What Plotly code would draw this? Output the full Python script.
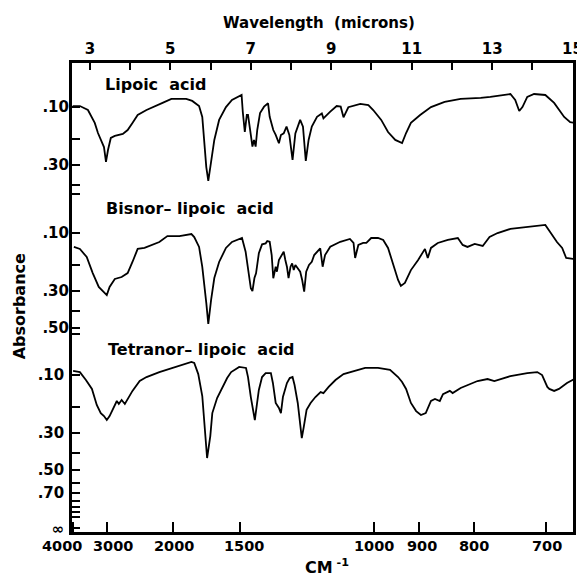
import plotly.graph_objects as go

lipoic_um = [2.49, 2.67, 2.87, 3.04, 3.12, 3.22, 3.27, 3.32, 3.37, 3.44, 3.54, 3.74, 3.86, 3.98, 4.11,
             4.33, 4.48, 4.73, 4.95, 5.32, 5.47, 5.64, 5.72, 5.77, 5.82, 5.87, 5.94, 6.02, 6.14, 6.31,
             6.46, 6.70, 6.73, 6.78, 6.83, 6.86, 6.93, 6.97, 7.01, 7.05, 7.09, 7.16, 7.26, 7.36, 7.40,
             7.49, 7.55, 7.63, 7.68, 7.75, 7.82, 7.89, 7.97, 8.04, 8.16, 8.23, 8.30, 8.37, 8.45, 8.58,
             8.70, 8.74, 8.91, 9.07, 9.17, 9.24, 9.36, 9.66, 9.86, 9.98, 10.18, 10.35, 10.53, 10.70,
             10.80, 10.92, 11.15, 11.42, 11.76, 12.16, 12.66, 12.90, 13.40, 13.52, 13.62, 13.70, 13.82,
             13.99, 14.27, 14.49, 14.74, 14.89, 14.99]
lipoic_T = [0.799, 0.799, 0.779, 0.714, 0.663, 0.618, 0.592, 0.517, 0.577, 0.638, 0.648, 0.658, 0.678,
            0.714, 0.754, 0.779, 0.794, 0.815, 0.835, 0.835, 0.825, 0.799, 0.744, 0.628, 0.491, 0.421,
            0.511, 0.628, 0.729, 0.794, 0.830, 0.855, 0.769, 0.668, 0.754, 0.754, 0.653, 0.594, 0.628,
            0.594, 0.678, 0.764, 0.796, 0.813, 0.745, 0.678, 0.653, 0.611, 0.653, 0.661, 0.695, 0.653,
            0.527, 0.661, 0.729, 0.695, 0.522, 0.628, 0.695, 0.745, 0.762, 0.737, 0.771, 0.799, 0.796,
            0.742, 0.793, 0.810, 0.804, 0.779, 0.729, 0.668, 0.628, 0.612, 0.663, 0.714, 0.754, 0.794,
            0.820, 0.835, 0.840, 0.845, 0.860, 0.830, 0.774, 0.794, 0.845, 0.860, 0.855, 0.815, 0.744,
            0.718, 0.714]

bisnor_um = [2.52, 2.67, 2.84, 2.99, 3.14, 3.29, 3.34, 3.41, 3.54, 3.71, 3.86, 3.98, 4.11, 4.28, 4.48,
             4.65, 4.85, 5.15, 5.45, 5.52, 5.64, 5.72, 5.82, 5.87, 5.94, 6.02, 6.14, 6.31, 6.46, 6.71,
             6.80, 6.86, 6.93, 6.97, 7.02, 7.06, 7.13, 7.21, 7.30, 7.34, 7.40, 7.45, 7.49, 7.55, 7.58,
             7.63, 7.68, 7.75, 7.79, 7.83, 7.87, 7.92, 7.96, 8.00, 8.04, 8.10, 8.16, 8.21, 8.26, 8.31,
             8.38, 8.45, 8.51, 8.66, 8.72, 8.78, 8.91, 9.16, 9.40, 9.49, 9.53, 9.61, 9.73, 9.81, 9.93,
             10.10, 10.23, 10.35, 10.48, 10.60, 10.67, 10.77, 10.92, 11.10, 11.27, 11.34, 11.42, 11.59,
             11.84, 12.09, 12.21, 12.33, 12.51, 12.63, 12.71, 12.88, 13.08, 13.40, 13.82, 14.27, 14.39,
             14.56, 14.69, 14.79, 14.99]
bisnor_T = [0.724, 0.714, 0.673, 0.592, 0.522, 0.491, 0.481, 0.522, 0.562, 0.572, 0.592, 0.648, 0.714,
            0.719, 0.734, 0.749, 0.779, 0.779, 0.789, 0.774, 0.724, 0.623, 0.441, 0.335, 0.456, 0.567,
            0.648, 0.719, 0.749, 0.769, 0.700, 0.618, 0.515, 0.501, 0.567, 0.591, 0.692, 0.737, 0.742,
            0.754, 0.750, 0.683, 0.566, 0.624, 0.599, 0.658, 0.675, 0.700, 0.658, 0.624, 0.566, 0.624,
            0.641, 0.607, 0.633, 0.616, 0.599, 0.557, 0.498, 0.599, 0.633, 0.649, 0.683, 0.717, 0.624,
            0.683, 0.725, 0.750, 0.764, 0.744, 0.668, 0.734, 0.744, 0.744, 0.769, 0.769, 0.759, 0.719,
            0.633, 0.557, 0.527, 0.542, 0.607, 0.658, 0.714, 0.668, 0.719, 0.744, 0.759, 0.769, 0.734,
            0.724, 0.739, 0.734, 0.729, 0.774, 0.794, 0.815, 0.825, 0.835, 0.799, 0.749, 0.719, 0.668,
            0.663]

tetranor_um = [2.50, 2.67, 2.82, 2.97, 3.09, 3.19, 3.27, 3.34, 3.41, 3.54, 3.59, 3.64, 3.71, 3.79, 3.86,
               3.98, 4.16, 4.33, 4.65, 5.07, 5.45, 5.52, 5.62, 5.72, 5.77, 5.82, 5.84, 5.92, 5.97, 6.09,
               6.21, 6.34, 6.44, 6.64, 6.81, 6.86, 6.93, 6.98, 7.03, 7.08, 7.13, 7.21, 7.30, 7.43, 7.48,
               7.55, 7.63, 7.68, 7.73, 7.83, 7.90, 7.97, 8.02, 8.10, 8.17, 8.20, 8.25, 8.32, 8.42, 8.54,
               8.67, 8.74, 8.87, 9.04, 9.24, 9.49, 9.78, 10.10, 10.40, 10.60, 10.70, 10.80, 10.92, 11.05,
               11.17, 11.29, 11.42, 11.52, 11.64, 11.72, 11.89, 11.96, 12.16, 12.58, 12.83, 13.00, 13.40,
               13.82, 14.07, 14.19, 14.32, 14.37, 14.49, 14.61, 14.81, 14.99]
tetranor_T = [0.815, 0.809, 0.769, 0.724, 0.643, 0.602, 0.587, 0.567, 0.587, 0.638, 0.663, 0.648, 0.668,
              0.648, 0.673, 0.714, 0.764, 0.784, 0.809, 0.835, 0.860, 0.855, 0.799, 0.688, 0.537, 0.400,
              0.375, 0.486, 0.602, 0.678, 0.729, 0.779, 0.809, 0.835, 0.830, 0.784, 0.683, 0.633, 0.567,
              0.643, 0.719, 0.784, 0.804, 0.804, 0.754, 0.653, 0.628, 0.602, 0.683, 0.754, 0.779, 0.784,
              0.744, 0.653, 0.532, 0.476, 0.532, 0.618, 0.653, 0.683, 0.708, 0.703, 0.734, 0.769, 0.799,
              0.815, 0.830, 0.830, 0.820, 0.784, 0.759, 0.724, 0.653, 0.612, 0.592, 0.602, 0.663, 0.673,
              0.663, 0.698, 0.714, 0.703, 0.729, 0.764, 0.774, 0.764, 0.789, 0.804, 0.809, 0.794, 0.734,
              0.724, 0.714, 0.724, 0.754, 0.774]

spectrum_names = ["Lipoic  acid", "Bisnor– lipoic  acid", "Tetranor– lipoic  acid"]

wavenumber_ticks = [4000, 3000, 2000, 1500, 1000, 900, 800, 700]
micron_ticks = list(range(3, 16))
abs_ticks_top = [0.10, 0.20, 0.30, 0.40, 0.45]
abs_ticks_mid = [0.10, 0.20, 0.30, 0.40, 0.50, 0.55]
abs_ticks_bot = [0.10, 0.20, 0.30, 0.40, 0.50, 0.60, 0.70, 0.80, 0.90, 1.00, 1.10]

FONT = "DejaVu Sans"


def abs_ticktext(vals):
    out = []
    for v in vals:
        if round(v * 100) in (10, 30, 50, 70):
            out.append("." + f"{v:.2f}".split(".")[1])
        else:
            out.append("")
    return out


fig = go.Figure()
line = dict(color="black", width=1.8)
fig.add_trace(go.Scatter(x=lipoic_um, y=lipoic_T, mode="lines", line=line, yaxis="y3",
                         showlegend=False, hoverinfo="skip"))
fig.add_trace(go.Scatter(x=bisnor_um, y=bisnor_T, mode="lines", line=line, yaxis="y2",
                         showlegend=False, hoverinfo="skip"))
fig.add_trace(go.Scatter(x=tetranor_um, y=tetranor_T, mode="lines", line=line, yaxis="y",
                         showlegend=False, hoverinfo="skip"))
# carrier for the top (micron) axis
fig.add_trace(go.Scatter(x=[micron_ticks[0]], y=[tetranor_T[0]], xaxis="x2", yaxis="y",
                         mode="markers", marker=dict(opacity=0), showlegend=False, hoverinfo="skip"))

tickfont = dict(family=FONT, size=15, color="black", weight="bold")
yspan = 2.3687

bot_vals = [10 ** (-a) for a in abs_ticks_bot] + [0.02]
bot_text = abs_ticktext(abs_ticks_bot) + ["∞"]

common_y = dict(ticks="inside", ticklen=8, tickwidth=2, tickcolor="black", showgrid=False,
                zeroline=False, tickfont=tickfont, ticklabelstandoff=2)

fig.update_layout(
    width=577, height=576,
    margin=dict(l=72, r=1, t=63, b=44),
    paper_bgcolor="white", plot_bgcolor="white",
    xaxis=dict(range=[2.473, 14.96], tickvals=[1e4 / w for w in wavenumber_ticks],
               showticklabels=False, ticks="inside", ticklen=10,
               tickwidth=2, tickcolor="black", showline=True, linecolor="black", linewidth=2.5,
               mirror=False, showgrid=False, zeroline=False),
    xaxis2=dict(range=[2.556, 15.01], overlaying="x", side="top", anchor="y",
                tickvals=micron_ticks, tickangle=0,
                ticktext=[str(m) if m % 2 == 1 and m < 15 else "" for m in micron_ticks],
                ticks="inside", ticklen=7, tickwidth=2, tickcolor="black", showline=True,
                linecolor="black", linewidth=2.5, showgrid=False, zeroline=False,
                tickfont=tickfont, ticklabelstandoff=0),
    yaxis=dict(range=[0.0014, 0.0014 + yspan], tickvals=bot_vals, ticktext=bot_text,
               showline=True, linecolor="black", linewidth=2.5, mirror=True, **common_y),
    yaxis2=dict(range=[-0.7158, -0.7158 + yspan], overlaying="y", side="left", anchor="x",
                tickvals=[10 ** (-a) for a in abs_ticks_mid], ticktext=abs_ticktext(abs_ticks_mid),
                showline=False, **common_y),
    yaxis3=dict(range=[-1.3522, -1.3522 + yspan], overlaying="y", side="left", anchor="x",
                tickvals=[10 ** (-a) for a in abs_ticks_top], ticktext=abs_ticktext(abs_ticks_top),
                showline=False, **common_y),
)

# last top-axis label sits on the page edge (cut off as in the original)
fig.add_annotation(text=str(micron_ticks[-1]), x=micron_ticks[-1], xref="x2", y=1.0, yref="paper",
                   yanchor="bottom", xanchor="center", yshift=3, showarrow=False,
                   font=tickfont)

# bottom (wavenumber) tick labels, placed under their ticks
label_shift = [-11, 6, 1, 4, 0, 3, 0, 1]
for w, dx in zip(wavenumber_ticks, label_shift):
    fig.add_annotation(text=str(w), x=1e4 / w, xref="x", y=-0.0299, yref="paper",
                       xanchor="center", yanchor="middle", xshift=dx, showarrow=False,
                       font=dict(family=FONT, size=14.5, color="black", weight="bold"))

label_font = dict(family=FONT, size=16, color="black", weight="bold")
for name, xp, yp in zip(spectrum_names, [0.0615, 0.0635, 0.0675], [0.955, 0.689, 0.390]):
    fig.add_annotation(text=name, x=xp, y=yp, xref="paper", yref="paper", xanchor="left",
                       yanchor="middle", showarrow=False, font=label_font)

fig.add_annotation(text="Wavelength  (microns)", x=0.494, y=1.085, xref="paper", yref="paper",
                   xanchor="center", yanchor="middle", showarrow=False,
                   font=dict(family=FONT, size=15, color="black", weight="bold"))
fig.add_annotation(text="Absorbance", x=-0.103, y=0.482, xref="paper", yref="paper", textangle=-90,
                   xanchor="center", yanchor="middle", showarrow=False,
                   font=dict(family=FONT, size=16, color="black", weight="bold"))
fig.add_annotation(text="CM<sup> -1</sup>", x=0.508, y=-0.0746, xref="paper", yref="paper",
                   xanchor="center", yanchor="middle", showarrow=False,
                   font=dict(family=FONT, size=16, color="black", weight="bold"))

fig.write_html("out.html", config={"displayModeBar": False},
               post_script="document.body.style.margin='0';document.body.style.overflow='hidden';")
